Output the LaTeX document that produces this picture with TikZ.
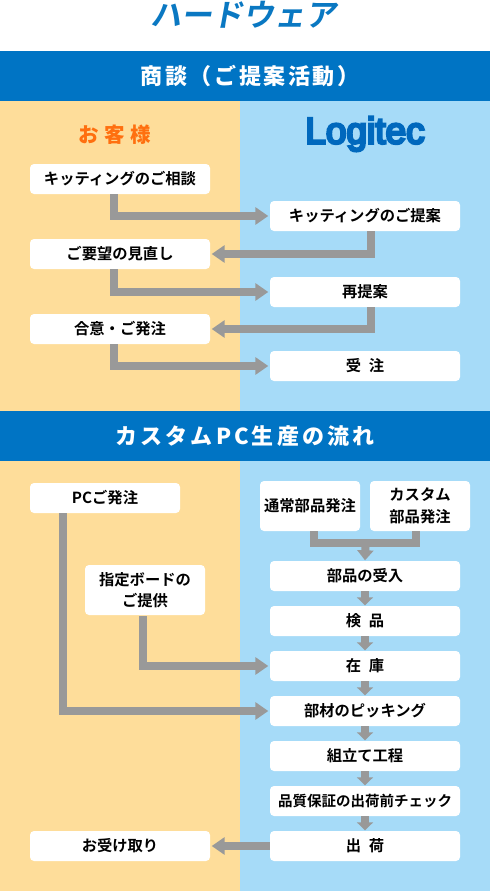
\documentclass[tikz,border=0pt]{standalone}
\usepackage{fontspec}
\usetikzlibrary{arrows.meta}
\setmainfont{Noto Sans CJK JP}[BoldFont=Noto Sans CJK JP Bold,WordSpace=2.2]
\newfontfamily\headfont{Noto Sans CJK JP}[LetterSpace=14,WordSpace=1]
\newfontfamily\headfontb{Noto Sans CJK JP}[LetterSpace=12,WordSpace=1]
\newfontfamily\custfont{Noto Sans CJK JP}[LetterSpace=28]
\newfontfamily\logofont{Liberation Sans}[FakeBold=7]
\newcommand{\lw}[1]{\raisebox{-1.3pt}{#1}}
\definecolor{leftbg}{HTML}{FEDD9A}
\definecolor{rightbg}{HTML}{A6DBF8}
\definecolor{headblue}{HTML}{0074C4}
\definecolor{titleblue}{HTML}{0A78C2}
\definecolor{custorange}{HTML}{FF6F0F}
\definecolor{logoblue}{HTML}{0068BD}
\definecolor{flowgray}{HTML}{999999}
\tikzset{
  bx/.style={fill=white,rounded corners=4pt,inner sep=0pt,align=center,text=black,font=\fontsize{15.3}{21.5}\selectfont\bfseries,minimum height=30pt},
  wa/.style={bx,minimum width=180pt},
  wb/.style={bx,minimum width=190pt},
  tallbx/.style={bx,minimum height=50pt},
  hd/.style={text=white,inner sep=0pt,font=\fontsize{22}{26}\selectfont\headfont\bfseries},
  flow/.style={draw=flowgray,line width=8pt,line join=miter},
  longarr/.style={flow,-{Triangle[length=13pt,width=17pt]},shorten >=1.5pt},
  shortarr/.style={flow,-{Triangle[length=8pt,width=16pt]},shorten >=0.5pt},
  mergearr/.style={flow,-{Triangle[length=10pt,width=16pt]},shorten >=0.5pt}
}
\begin{document}
\begin{tikzpicture}[x=1pt,y=-1pt]
\useasboundingbox (0,0) rectangle (490,891);
\fill[white] (0,0) rectangle (490,891);
\fill[leftbg] (0,101) rectangle (240,891);
\fill[rightbg] (240,101) rectangle (490,891);
\fill[headblue] (0,51) rectangle (490,101);
\fill[headblue] (0,411) rectangle (490,461);
\node[inner sep=0pt,text=titleblue,xslant=0.18,transform shape,font=\fontsize{31}{36}\selectfont\bfseries] (title) at (246,15) {ハードウェア};
\node[hd,font=\fontsize{22}{26}\selectfont\headfontb\bfseries] (head1) at (250,76) {商談（ご提案活動）};
\node[hd] (head2) at (245,436) {カスタムPC生産の流れ};
\node[inner sep=0pt,text=custorange,font=\fontsize{20.5}{24}\selectfont\custfont\bfseries] (cust) at (115,134.5) {お客様};
\node[inner sep=0pt,text=logoblue,font=\fontsize{37}{40}\selectfont\logofont] (logo) at (365,134) {Logitec};
% upper flow
\node[wa] (a1) at (120,179) {\lw{キッティングのご相談}};
\node[wb] (a2) at (365,216) {\lw{キッティングのご提案}};
\node[wa] (a3) at (120,254) {\lw{ご要望の見直し}};
\node[wb] (a4) at (365,292) {\lw{再提案}};
\node[wa] (a5) at (120,329) {\lw{合意・ご発注}};
\node[wb] (a6) at (365,366) {\lw{受 注}};
\draw[longarr] ([xshift=-6pt]a1.south) |- (a2.west);
\draw[longarr] ([xshift=6pt]a2.south) |- (a3.east);
\draw[longarr] ([xshift=-6pt]a3.south) |- (a4.west);
\draw[longarr] ([xshift=6pt]a4.south) |- (a5.east);
\draw[longarr] ([xshift=-6pt]a5.south) |- (a6.west);
% lower flow
\node[bx,minimum width=150pt] (pc) at (105,498) {\lw{PCご発注}};
\node[tallbx,minimum width=120pt] (board) at (145,590) {指定ボードの\\ご提供};
\node[tallbx,minimum width=100pt] (std) at (310,506) {\lw{通常部品発注}};
\node[tallbx,minimum width=100pt] (cus) at (420,506) {カスタム\\部品発注};
\coordinate (merge) at (365.5,543);
\node[wb] (b1) at (365,576) {\lw{部品の受入}};
\node[wb] (b2) at (365,621) {\lw{検 品}};
\node[wb] (b3) at (365,666) {\lw{在 庫}};
\node[wb] (b4) at (365,711) {\lw{部材のピッキング}};
\node[wb] (b5) at (365,756) {\lw{組立て工程}};
\node[wb,font=\fontsize{14.5}{20}\selectfont\bfseries] (b6) at (365,801) {\lw{品質保証の出荷前チェック}};
\node[wb] (b7) at (365,846) {\lw{出 荷}};
\node[wa] (recv) at (120,846) {\lw{お受け取り}};
\draw[flow] ([xshift=4pt]std.south) |- (merge) -| ([xshift=-4pt]cus.south);
\draw[mergearr] ([yshift=-4pt]merge) -- (b1.north);
\draw[shortarr] (b1.south) -- (b2.north);
\draw[shortarr] (b2.south) -- (b3.north);
\draw[shortarr] (b3.south) -- (b4.north);
\draw[shortarr] (b4.south) -- (b5.north);
\draw[shortarr] (b5.south) -- (b6.north);
\draw[shortarr] (b6.south) -- (b7.north);
\draw[longarr] ([xshift=-2pt,yshift=-1pt]board.south) |- (b3.west);
\draw[longarr] ([xshift=-42pt]pc.south) |- (b4.west);
\draw[longarr] (b7.west) -- (recv.east);
\end{tikzpicture}
\end{document}
